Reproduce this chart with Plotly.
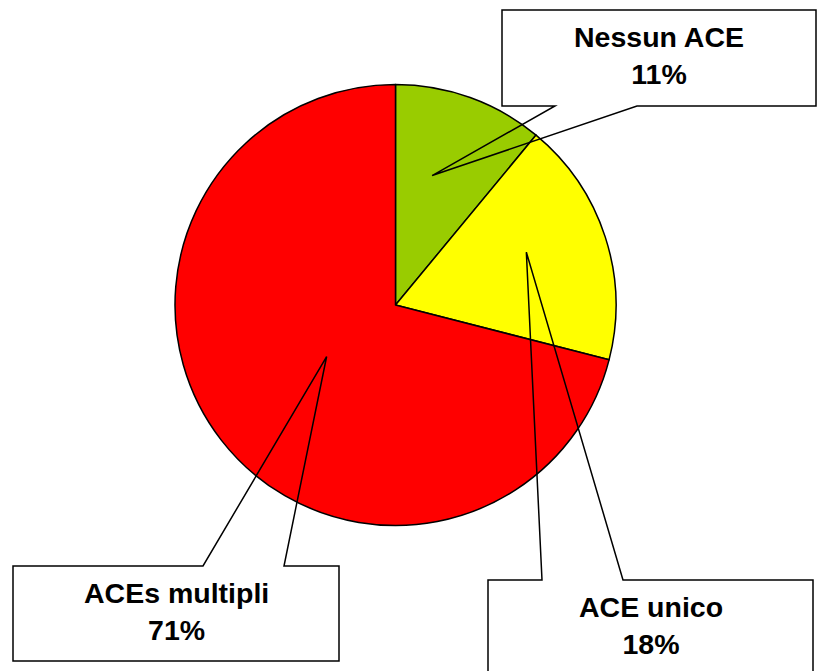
import math
import plotly.graph_objects as go

# Data
categories = ["Nessun ACE", "ACE unico", "ACEs multipli"]
percentages = [11, 18, 71]
colors = ["#99CC00", "#FFFF00", "#FF0000"]

# Canvas and pie geometry (pixels)
W, H = 817, 671
CX, CY, R = 395.5, 305, 220.5

# Callout layout: box (x0, y0, x1, y1), pointer base x-range, side of box the
# pointer leaves from, radial fraction of the tip and small angular nudge (deg)
callouts = {
    "Nessun ACE": dict(box=(502, 10, 816, 106), base=(555, 637), side="bottom",
                       rfrac=0.61, dang=-4),
    "ACE unico": dict(box=(488, 580, 813, 678), base=(542, 623), side="top",
                      rfrac=0.64, dang=-4),
    "ACEs multipli": dict(box=(13, 566, 339, 661), base=(203, 284), side="top",
                          rfrac=0.39, dang=1),
}

fig = go.Figure()

fig.add_trace(go.Pie(
    labels=categories,
    values=percentages,
    sort=False,
    direction="clockwise",
    rotation=0,
    marker=dict(colors=colors, line=dict(color="black", width=1.5)),
    textinfo="none",
    hoverinfo="label+percent",
    showlegend=False,
    domain=dict(x=[(CX - R) / W, (CX + R) / W],
                y=[(H - CY - R) / H, (H - CY + R) / H]),
))

# Callout boxes with pointers to each slice
total = sum(percentages)
cum = 0.0
shapes, annotations = [], []
for name, val in zip(categories, percentages):
    mid = (cum + val / 2) / total * 360.0
    cum += val
    c = callouts[name]
    ang = math.radians(mid + c["dang"])
    tx = CX + c["rfrac"] * R * math.sin(ang)
    ty = CY - c["rfrac"] * R * math.cos(ang)
    x0, y0, x1, y1 = c["box"]
    b1, b2 = c["base"]
    if c["side"] == "bottom":
        path = (f"M{x0},{y0} L{x1},{y0} L{x1},{y1} L{b2},{y1} "
                f"L{tx},{ty} L{b1},{y1} L{x0},{y1} Z")
    else:
        path = (f"M{x0},{y1} L{x0},{y0} L{b1},{y0} L{tx},{ty} "
                f"L{b2},{y0} L{x1},{y0} L{x1},{y1} Z")
    shapes.append(dict(type="path", path=path, xref="x", yref="y",
                       line=dict(color="black", width=1.5),
                       fillcolor="rgba(0,0,0,0)", layer="above"))
    annotations.append(dict(
        x=(x0 + x1) / 2, y=y0 + 45, xref="x", yref="y",
        text=f"{name}<br>{val}%", showarrow=False,
        font=dict(family="Liberation Sans, Arial, sans-serif", size=28.5,
                  color="black", weight="bold"),
        xanchor="center", yanchor="middle",
    ))

fig.update_layout(
    width=W, height=H,
    margin=dict(l=0, r=0, t=0, b=0),
    paper_bgcolor="white", plot_bgcolor="white",
    xaxis=dict(range=[0, W], visible=False, fixedrange=True),
    yaxis=dict(range=[H, 0], visible=False, fixedrange=True),
    shapes=shapes,
    annotations=annotations,
)

fig.write_html("out.html")
